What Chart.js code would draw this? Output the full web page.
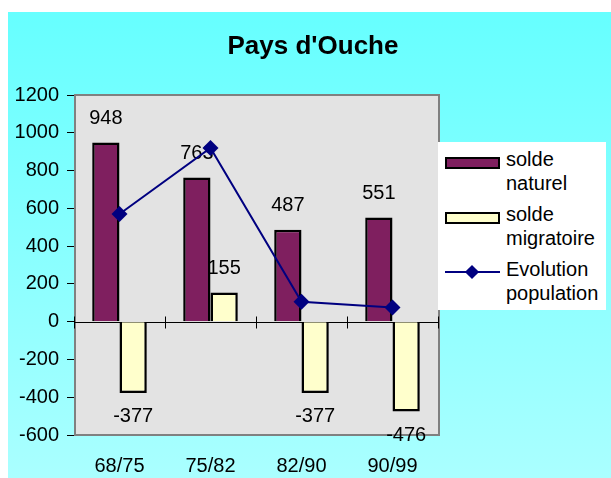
<!DOCTYPE html>
<html>
<head>
<meta charset="utf-8">
<script src="https://cdn.jsdelivr.net/npm/chart.js@4/dist/chart.umd.min.js"></script>
<style>
body { margin: 0; background: #fff; }
#bg { position: absolute; left: 8px; top: 12px; width: 603px; height: 466px;
      background: linear-gradient(#66ffff, #aaffff); }
#wrap { position: absolute; left: 0; top: 0; width: 611px; height: 478px; }
#title { position: absolute; left: 193px; top: 30px; width: 240px; text-align: center;
         font: bold 26px "Liberation Sans", Arial, sans-serif; color: #000; }
#legend { position: absolute; left: 438px; top: 142px; width: 168px; height: 168px;
          background: #fff; font: 20px "Liberation Sans", Arial, sans-serif; color: #000; }
.item { position: absolute; left: 7px; }
.sw { position: absolute; left: 0; top: 10px; width: 51px; height: 8px; border: 2px solid #000; }
.ln { position: absolute; left: 0; top: 14px; width: 55px; height: 2px; background: #000080; }
.dm { position: absolute; left: 22px; top: 10px; width: 10px; height: 10px; background: #000080; transform: rotate(45deg); }
.tx { position: absolute; left: 61px; top: 0; line-height: 24px; white-space: nowrap; }
</style>
</head>
<body>
<div id="bg"></div>
<div id="wrap"><canvas id="chart" width="611" height="478"></canvas></div>
<div id="title">Pays d'Ouche</div>
<div id="legend"></div>
<script>
var periods = ["68/75", "75/82", "82/90", "90/99"];
var soldeNaturel = [948, 763, 487, 551];
var soldeMigratoire = [-377, 155, -377, -476];
var evolution = [570, 920, 105, 75];
var yTicks = [-600, -400, -200, 0, 200, 400, 600, 800, 1000, 1200];

var labelFont = '20px "Liberation Sans", Arial, sans-serif';

// gray plot area, frame, zero axis with crossing ticks
var plotArea = {
    id: 'plotArea',
    beforeDatasetsDraw: function (chart) {
        var a = chart.chartArea, ctx = chart.ctx;
        var x = chart.scales.x, y = chart.scales.y;
        ctx.save();
        ctx.fillStyle = '#e3e3e3';
        ctx.fillRect(a.left, a.top, a.right - a.left, a.bottom - a.top);
        ctx.strokeStyle = '#808080';
        ctx.lineWidth = 2;
        ctx.strokeRect(a.left + 1, a.top, a.right - a.left, a.bottom - a.top);
        ctx.strokeStyle = '#000';
        ctx.lineWidth = 1;
        var y0 = Math.round(y.getPixelForValue(0)) + 0.5;
        ctx.beginPath();
        ctx.moveTo(a.left, y0);
        ctx.lineTo(a.right, y0);
        var half = (x.getPixelForValue(1) - x.getPixelForValue(0)) / 2;
        for (var i = 0; i <= periods.length; i++) {
            var px = Math.round(x.getPixelForValue(i) - half) + 0.5;
            ctx.moveTo(px, y0 - 6);
            ctx.lineTo(px, y0 + 6);
        }
        ctx.stroke();
        ctx.restore();
    },
    afterDatasetDraw: function (chart, args) {
        var ds = chart.data.datasets[args.index];
        if (ds.type == 'line') return;
        var ctx = chart.ctx;
        ctx.save();
        ctx.font = labelFont;
        ctx.fillStyle = '#000';
        ctx.textAlign = 'center';
        ctx.textBaseline = 'middle';
        args.meta.data.forEach(function (bar, i) {
            var v = ds.data[i];
            ctx.fillText(String(v), bar.x, v >= 0 ? bar.y - 24 : bar.y + 24);
        });
        ctx.restore();
    }
};

var chart = new Chart(document.getElementById('chart'), {
    type: 'bar',
    data: {
        labels: periods,
        datasets: [
            { type: 'line', label: 'Evolution population', data: evolution, order: 0,
              borderColor: '#000080', backgroundColor: '#000080', borderWidth: 2,
              pointStyle: 'rectRot', pointRadius: 8, pointBorderWidth: 0, tension: 0 },
            { label: 'solde naturel', data: soldeNaturel, order: 1,
              backgroundColor: '#7f1f5f', borderColor: '#000', borderWidth: 2.5,
              categoryPercentage: 0.6, barPercentage: 1 },
            { label: 'solde migratoire', data: soldeMigratoire, order: 2,
              backgroundColor: '#ffffcc', borderColor: '#000', borderWidth: 2.5,
              categoryPercentage: 0.6, barPercentage: 1 }
        ]
    },
    options: {
        responsive: false,
        animation: false,
        layout: { padding: { top: 95, right: 173, left: 0, bottom: 0 } },
        plugins: { legend: { display: false }, tooltip: { enabled: false } },
        scales: {
            x: {
                grid: { display: false },
                border: { display: false },
                ticks: { color: '#000', font: { family: '"Liberation Sans", Arial', size: 20 }, padding: 11 },
                afterFit: function (s) { s.height = 43; }
            },
            y: {
                min: -600, max: 1200,
                afterBuildTicks: function (s) { s.ticks = yTicks.map(function (v) { return { value: v }; }); },
                grid: { drawOnChartArea: false, color: '#000', tickLength: 7 },
                border: { color: '#000', width: 1 },
                ticks: { color: '#000', font: { family: '"Liberation Sans", Arial', size: 20 }, padding: 8,
                         callback: function (v) { return String(v); } },
                afterFit: function (s) { s.width = 74; }
            }
        }
    },
    plugins: [plotArea]
});

// legend built from the datasets
var lg = document.getElementById('legend');
var order = [1, 2, 0];
var html = '';
order.forEach(function (idx, k) {
    var ds = chart.data.datasets[idx];
    var words = ds.label.split(' ');
    var mark = ds.type == 'line'
        ? '<div class="ln"></div><div class="dm"></div>'
        : '<div class="sw" style="background:' + ds.backgroundColor + '"></div>';
    html += '<div class="item" style="top:' + (5 + k * 55) + 'px">' + mark +
        '<div class="tx">' + words[0] + '<br>' + words[1] + '</div></div>';
});
lg.innerHTML = html;
</script>
</body>
</html>
